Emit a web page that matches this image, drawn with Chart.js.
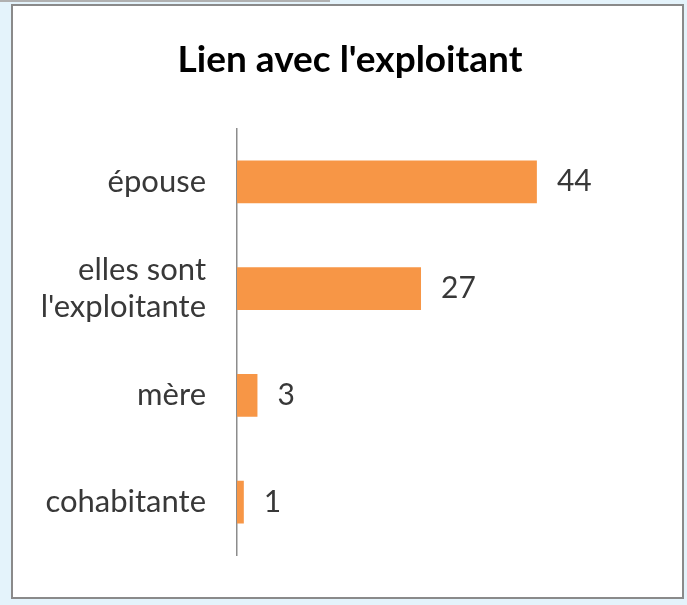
<!DOCTYPE html>
<html>
<head>
<meta charset="utf-8">
<script src="https://cdn.jsdelivr.net/npm/chart.js@4"></script>
<style>
  html, body { margin: 0; padding: 0; background: #e4f3fb; }
  canvas { display: block; }
</style>
</head>
<body>
<canvas id="myChart" width="687" height="605"></canvas>
<script>
const categories = ['épouse', ['elles sont', "l'exploitante"], 'mère', 'cohabitante'];
const counts = [44, 27, 3, 1];
const barColor = '#f79646';
const textColor = '#383838';

// white box with grey border behind the chart
const frame = {
    id: 'frame',
    beforeDraw(chart) {
        const c = chart.ctx;
        c.save();
        c.fillStyle = '#e4f3fb';
        c.fillRect(0, 0, chart.width, chart.height);
        c.fillStyle = '#b0b0b0';
        c.fillRect(0, 0, 330, 2);
        c.fillStyle = '#ffffff';
        c.fillRect(12, 5, 671, 593);
        c.strokeStyle = '#8a8a8a';
        c.lineWidth = 2;
        c.strokeRect(12, 5, 671, 593);
        c.restore();
    }
};

// value labels to the right of each bar
const valueLabels = {
    id: 'valueLabels',
    afterDatasetsDraw(chart) {
        const c = chart.ctx;
        const meta = chart.getDatasetMeta(0);
        c.save();
        c.font = '30px Lato';
        c.fillStyle = textColor;
        c.textAlign = 'left';
        c.textBaseline = 'middle';
        meta.data.forEach((bar, i) => {
            c.fillText(String(counts[i]), bar.x + 20, bar.y);
        });
        c.restore();
    }
};

const ctx = document.getElementById('myChart').getContext('2d');

const myChart = new Chart(ctx, {
    type: 'bar',
    data: {
        labels: categories,
        datasets: [{
            data: counts,
            backgroundColor: barColor,
            borderWidth: 0,
            barPercentage: 0.4,
            categoryPercentage: 1.0
        }]
    },
    options: {
        indexAxis: 'y',
        responsive: false,
        animation: false,
        maintainAspectRatio: false,
        layout: {
            padding: {top: 0, left: 20, right: 7, bottom: 47}
        },
        scales: {
            x: {
                display: false,
                min: 0,
                max: 65
            },
            y: {
                afterFit(scale) { scale.width = 217; },
                grid: {display: false, drawTicks: false},
                border: {display: true, color: '#8c8c8c', width: 1.5},
                ticks: {
                    color: textColor,
                    padding: 31,
                    font: {family: 'Lato', size: 31, lineHeight: 1.2}
                }
            }
        },
        plugins: {
            legend: {display: false},
            tooltip: {enabled: false},
            title: {
                display: true,
                text: "Lien avec l'exploitant",
                color: '#000000',
                font: {family: 'Lato', size: 37, weight: 'bold', lineHeight: 1.2},
                padding: {top: 38, bottom: 46}
            }
        }
    },
    plugins: [frame, valueLabels]
});
</script>
</body>
</html>
